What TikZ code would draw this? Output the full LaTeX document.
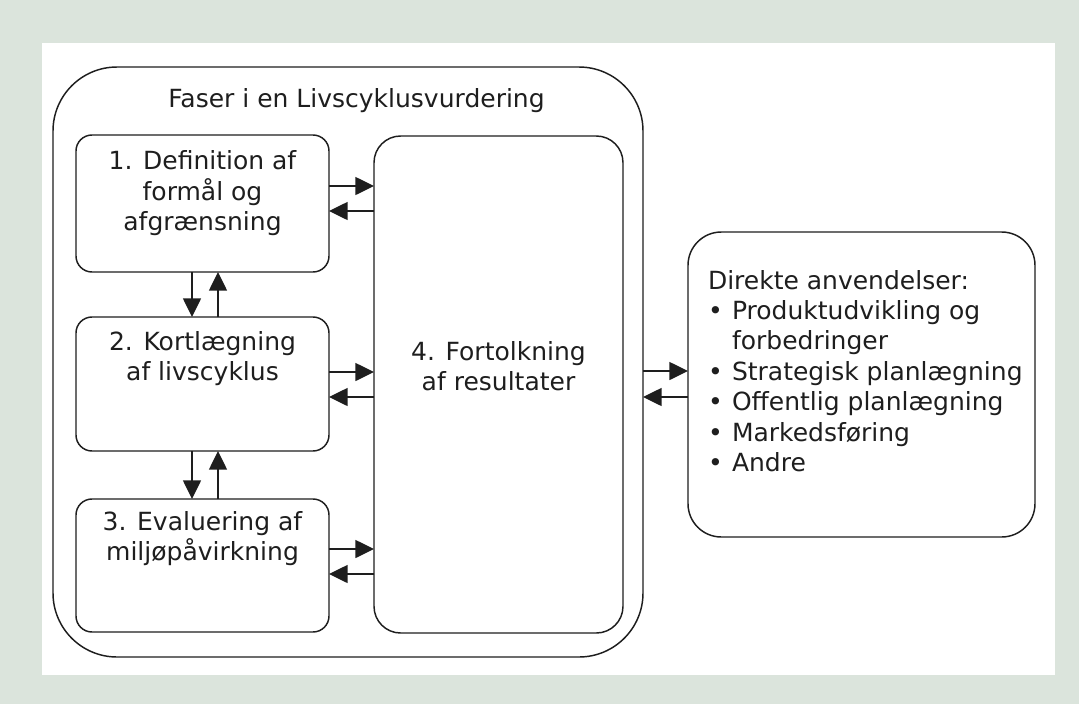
\documentclass[tikz,border=0pt]{standalone}
\usepackage{fontspec}
\setmainfont{DejaVu Sans}
\usetikzlibrary{arrows.meta}
\definecolor{pagebg}{RGB}{219,228,220}
\definecolor{ink}{RGB}{30,30,30}
\newcommand{\itembul}{\makebox[18pt][l]{•}}
\begin{document}
\begin{tikzpicture}[x=0.75pt,y=-0.75pt,
  box/.style={draw=ink, line width=1.1pt, rounded corners=12pt, inner sep=0pt, outer sep=0pt, fill=white},
  lbl/.style={inner sep=0pt, outer sep=0pt, text=ink, font=\fontsize{18.75}{22.8}\selectfont, align=center},
  arr/.style={draw=ink, line width=1.1pt, -{Triangle[length=14pt,width=13.5pt]}},
]
\useasboundingbox (0,0) rectangle (1079,704);
% page and panel background
\fill[pagebg] (0,0) rectangle (1079,704);
\fill[white] (42,43) rectangle (1055,675);

% frames
\node[box, rounded corners=48pt, minimum width=442.5pt, minimum height=442.5pt] (outer) at (348,362) {};
\node[box, minimum width=189.75pt, minimum height=102.75pt] (b1) at (202.5,203.5) {};
\node[box, minimum width=189.75pt, minimum height=100.5pt] (b2) at (202.5,384) {};
\node[box, minimum width=189.75pt, minimum height=99.75pt] (b3) at (202.5,565.5) {};
\node[box, rounded corners=20pt, minimum width=186.75pt, minimum height=372.75pt] (b4) at (498.5,384.5) {};
\node[box, rounded corners=25pt, minimum width=260.25pt, minimum height=228.75pt] (uses) at (861.5,384.5) {};

% texts
\node[lbl, anchor=north] (title) at (356.5,89) {Faser i en Livscyklusvurdering};
\node[lbl, anchor=north] (t1) at (202.5,151) {1. Definition af\\formål og\\afgrænsning};
\node[lbl, anchor=north] (t2) at (202.5,331) {2. Kortlægning\\af livscyklus};
\node[lbl, anchor=north] (t3) at (202.5,511) {3. Evaluering af\\miljøpåvirkning};
\node[lbl, anchor=north] (t4) at (498.5,341) {4. Fortolkning\\af resultater};
\node[lbl, anchor=north west, align=left] (t5) at (708,270) {Direkte anvendelser:\\
  \itembul Produktudvikling og\\
  \hspace*{18pt}forbedringer\\
  \itembul Strategisk planlægning\\
  \itembul Offentlig planlægning\\
  \itembul Markedsføring\\
  \itembul Andre};

% arrow levels
\coordinate (h1a) at (0,186);
\coordinate (h1b) at (0,211);
\coordinate (h2a) at (0,372);
\coordinate (h2b) at (0,397);
\coordinate (h3a) at (0,549);
\coordinate (h3b) at (0,574);
\coordinate (h4a) at (0,371);
\coordinate (h4b) at (0,397);
\coordinate (vdn) at (192,0);
\coordinate (vup) at (218,0);

% connectors
\draw[arr] (b1.east |- h1a) -- (b4.west |- h1a);
\draw[arr] (b4.west |- h1b) -- (b1.east |- h1b);
\draw[arr] (b2.east |- h2a) -- (b4.west |- h2a);
\draw[arr] (b4.west |- h2b) -- (b2.east |- h2b);
\draw[arr] (b3.east |- h3a) -- (b4.west |- h3a);
\draw[arr] (b4.west |- h3b) -- (b3.east |- h3b);
\draw[arr] (outer.east |- h4a) -- (uses.west |- h4a);
\draw[arr] (uses.west |- h4b) -- (outer.east |- h4b);
\draw[arr] (b1.south -| vdn) -- (b2.north -| vdn);
\draw[arr] (b2.north -| vup) -- (b1.south -| vup);
\draw[arr] (b2.south -| vdn) -- (b3.north -| vdn);
\draw[arr] (b3.north -| vup) -- (b2.south -| vup);
\end{tikzpicture}
\end{document}
